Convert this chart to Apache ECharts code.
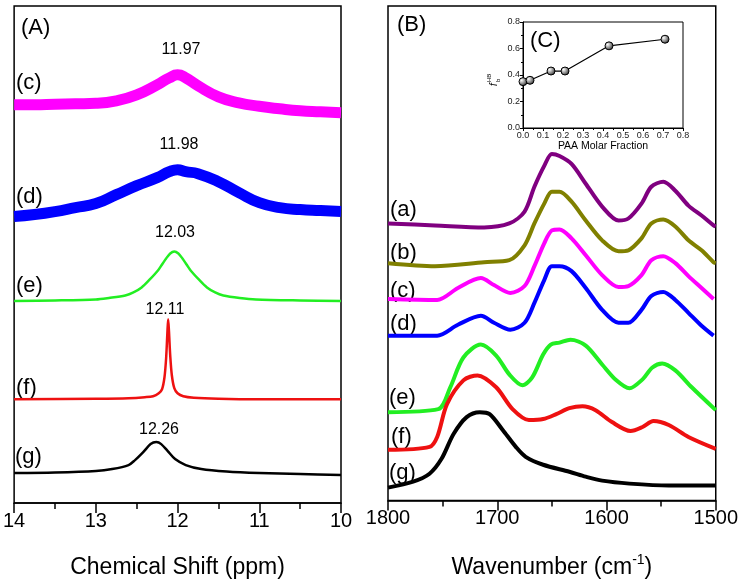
<!DOCTYPE html>
<html><head><meta charset="utf-8">
<script src="https://cdn.jsdelivr.net/npm/echarts@6/dist/echarts.min.js"></script>
<style>html,body{margin:0;padding:0;background:#fff}#c{width:741px;height:584px}</style>
</head><body><div id="c"></div>
<script>
// ---------- Panel (A): 1H NMR, chemical shift (ppm) vs stacked intensity ----------
const nmrLabels = ['(c)', '(d)', '(e)', '(f)', '(g)'];
const nmrPeakLabels = ['11.97', '11.98', '12.03', '12.11', '12.26'];
const nmrC = [[14,399],[13.75,399],[13.5,399.5],[13.25,400],[13,400.5],[12.75,403],[12.5,409],[12.25,419],[12.1,426],[12,429],[11.9,426],[11.75,418],[11.5,407],[11.25,401],[11,397.5],[10.75,395],[10.5,393],[10.25,392],[10,391]];
const nmrD = [[14,287],[13.75,289],[13.5,292],[13.25,296],[13,300],[12.75,309],[12.5,318],[12.25,326],[12.1,332],[12,334],[11.9,332],[11.75,330],[11.5,322],[11.25,311],[11,301],[10.75,296],[10.5,294],[10.25,293],[10,292]];
const nmrE = [[14,202.5],[13.5,203],[13,204],[12.84,205.5],[12.64,208],[12.54,211],[12.44,216],[12.34,224],[12.24,233],[12.19,239],[12.14,245],[12.09,250],[12.04,252],[11.99,250],[11.94,245],[11.89,239],[11.84,233],[11.74,224],[11.64,216],[11.54,211],[11.44,208],[11.24,205.5],[11.04,204],[10.5,203],[10,202.5]];
const nmrF = [[14,104],[13,104.5],[12.6,105],[12.4,106],[12.3,107],[12.23,110],[12.19,114],[12.16,126],[12.14,145],[12.125,170],[12.115,184],[12.105,172],[12.09,148],[12.07,128],[12.04,115],[12,110],[11.93,107],[11.8,105.5],[11.5,104.5],[11,104],[10,104]];
const nmrG = [[14,30],[13.5,30.5],[13,32],[12.8,34],[12.6,38],[12.52,43],[12.42,51],[12.33,59],[12.26,61],[12.2,59],[12.12,52],[12.03,44],[11.9,38],[11.71,34],[11.4,31.5],[11,30],[10.5,29],[10,28]];

// ---------- Panel (B): FTIR, wavenumber (cm-1) vs stacked absorbance ----------
const irLabels = ['(a)', '(b)', '(c)', '(d)', '(e)', '(f)', '(g)'];
const irWnTop = [1800,1757,1712,1689,1675,1666,1657,1650,1643,1632,1619,1604,1589,1580,1568,1559,1548,1537,1525,1513,1502,1500];
const irA = [279,277,275,279,291,316,337,349,347,339,319,296,282,284,299,316,321,312,297,287,277,276];
const irB = [239,236,240,242,257,279,299,311,311,301,282,262,251,252,264,279,283,276,262,252,240,239];
const irWnMid = [1800,1755,1736,1715,1703,1688,1675,1666,1657,1650,1643,1632,1619,1604,1589,1580,1568,1559,1548,1537,1525,1513,1502];
const irC = [203,202,214,224,217,209,216,236,259,272,273,264,247,227,215,216,227,242,246,239,226,214,203];
const irD = [166,166,177,186,179,172,179,199,222,236,236,231,214,192,179,179,192,206,210,202,189,176,166];
const irWnE = [1800,1754,1743,1731,1715,1701,1689,1677,1668,1658,1651,1643,1633,1619,1604,1591,1579,1567,1558,1549,1537,1522,1500];
const irE = [89,92,114,144,157,146,127,116,124,147,157,159,162,156,137,121,113,122,134,138,131,114,91];
const irWnF = [1800,1762,1755,1746,1731,1718,1701,1686,1671,1658,1646,1634,1622,1610,1595,1578,1567,1557,1543,1525,1500];
const irF = [51,54,64,97,121,126,114,92,81,82,87,93,95,91,79,70,74,80,76,64,52];
const irWnG = [1800,1777,1762,1751,1740,1728,1716,1707,1695,1683,1674,1658,1634,1619,1604,1579,1543,1500];
const irG = [13,19,27,42,67,84,89,87,71,54,44,36,29,24,20,17,15,15];

// ---------- Inset (C): f_b^HB vs PAA molar fraction ----------
const paaFraction = [0.0, 0.035, 0.14, 0.21, 0.43, 0.71];
const fbHB = [0.35, 0.36, 0.43, 0.43, 0.62, 0.67];

const FONT = '"Liberation Sans", Arial, sans-serif';
const zip = (xs, ys) => xs.map((x, i) => [x, ys[i]]);

function mainX(gi, min, max, interval, name, nameRich) {
  return {
    gridIndex: gi, type: 'value', min: min, max: max, interval: interval, inverse: true,
    axisLine: { show: true, onZero: false, lineStyle: { color: '#000', width: 1.5 } },
    axisTick: { show: true, inside: false, length: 10, lineStyle: { color: '#000', width: 1.5 } },
    minorTick: { show: true, splitNumber: 2, length: 6, lineStyle: { color: '#000', width: 1.5 } },
    splitLine: { show: false },
    axisLabel: { color: '#000', fontSize: 20, fontFamily: FONT, margin: 8, formatter: v => String(v) },
    name: name, nameLocation: 'middle', nameGap: 53,
    nameTextStyle: { color: '#000', fontSize: 23, fontFamily: FONT, rich: nameRich }
  };
}
function hiddenY(gi) {
  return { gridIndex: gi, type: 'value', min: 0, max: 498, show: false };
}
function lineSeries(xi, data, color, width, sm) {
  return { type: 'line', xAxisIndex: xi, yAxisIndex: xi, data: data, smooth: sm || 0.3,
    showSymbol: false, symbol: 'none', lineStyle: { color: color, width: width, join: 'round', cap: 'butt' }, silent: true, animation: false };
}
function txt(str, x, y, size, align) {
  return { type: 'text', x: x, y: y, silent: true,
    style: { text: str, fill: '#000', font: size + 'px ' + FONT, align: align || 'left', verticalAlign: 'middle' } };
}

const option = {
  backgroundColor: '#fff',
  animation: false,
  grid: [
    { left: 12, top: 6, width: 329, height: 498, show: true, borderColor: '#000', borderWidth: 1.5, backgroundColor: 'transparent' },
    { left: 388, top: 6, width: 329, height: 498, show: true, borderColor: '#000', borderWidth: 1.5, backgroundColor: 'transparent' },
    { left: 523, top: 22, width: 160, height: 106, show: true, borderColor: '#000', borderWidth: 1, backgroundColor: 'transparent' }
  ],
  xAxis: [
    mainX(0, 10, 14, 1, 'Chemical Shift (ppm)'),
    mainX(1, 1500, 1800, 100, 'Wavenumber (cm{sup|-1})', { sup: { fontSize: 14, fontFamily: FONT, color: '#000', padding: [0, 0, 14, 0] } }),
    { gridIndex: 2, type: 'value', min: 0, max: 0.8, interval: 0.1,
      axisLine: { show: true, onZero: false, lineStyle: { color: '#000', width: 1 } },
      axisTick: { show: true, length: 3, lineStyle: { color: '#000' } },
      minorTick: { show: true, splitNumber: 2, length: 2, lineStyle: { color: '#000' } },
      splitLine: { show: false },
      axisLabel: { color: '#222', fontSize: 9, fontFamily: FONT, margin: 3, formatter: v => v.toFixed(1) },
      name: 'PAA Molar Fraction', nameLocation: 'middle', nameGap: 13,
      nameTextStyle: { color: '#000', fontSize: 10.5, fontFamily: FONT } }
  ],
  yAxis: [
    hiddenY(0), hiddenY(1),
    { gridIndex: 2, type: 'value', min: 0, max: 0.8, interval: 0.2,
      axisLine: { show: true, onZero: false, lineStyle: { color: '#000', width: 1 } },
      axisTick: { show: true, length: 3, lineStyle: { color: '#000' } },
      minorTick: { show: true, splitNumber: 2, length: 2, lineStyle: { color: '#000' } },
      splitLine: { show: false },
      axisLabel: { color: '#222', fontSize: 9, fontFamily: FONT, margin: 3, formatter: v => v.toFixed(1) } }
  ],
  series: [
    lineSeries(0, nmrC, '#ff00ff', 11, 0.5),
    lineSeries(0, nmrD, '#0000ff', 11, 0.5),
    lineSeries(0, nmrE, '#22ee22', 2.5),
    lineSeries(0, nmrF, '#ee1111', 2.5),
    lineSeries(0, nmrG, '#000000', 2.5),
    lineSeries(1, zip(irWnTop, irA), '#800080', 4),
    lineSeries(1, zip(irWnTop, irB), '#808000', 4),
    lineSeries(1, zip(irWnMid, irC), '#ff00ff', 4),
    lineSeries(1, zip(irWnMid, irD), '#0000ff', 4),
    lineSeries(1, zip(irWnE, irE), '#22ee22', 4),
    lineSeries(1, zip(irWnF, irF), '#ee1111', 4),
    lineSeries(1, zip(irWnG, irG), '#000000', 4),
    { type: 'line', xAxisIndex: 2, yAxisIndex: 2, data: zip(paaFraction, fbHB), smooth: false,
      symbol: 'circle', symbolSize: 8, showSymbol: true, clip: false,
      lineStyle: { color: '#000', width: 1.2 },
      itemStyle: { color: { type: 'radial', x: 0.35, y: 0.35, r: 0.75,
        colorStops: [{ offset: 0, color: '#ffffff' }, { offset: 0.6, color: '#777777' }, { offset: 1, color: '#111111' }] },
        borderColor: '#000', borderWidth: 1 } }
  ],
  graphic: [
    txt('(A)', 21, 28, 22),
    txt(nmrLabels[0], 16, 83, 22),
    txt(nmrLabels[1], 16, 197, 22),
    txt(nmrLabels[2], 16, 286, 22),
    txt(nmrLabels[3], 16, 388, 22),
    txt(nmrLabels[4], 15, 457, 22),
    txt(nmrPeakLabels[0], 181, 50, 16, 'center'),
    txt(nmrPeakLabels[1], 179, 145, 16, 'center'),
    txt(nmrPeakLabels[2], 175, 233, 16, 'center'),
    txt(nmrPeakLabels[3], 165, 310, 16, 'center'),
    txt(nmrPeakLabels[4], 159, 430, 16, 'center'),
    txt('(B)', 397, 25, 22),
    txt(irLabels[0], 390, 210, 22),
    txt(irLabels[1], 390, 253, 22),
    txt(irLabels[2], 390, 291, 22),
    txt(irLabels[3], 390, 324, 22),
    txt(irLabels[4], 389, 398, 22),
    txt(irLabels[5], 391, 437, 22),
    txt(irLabels[6], 389, 473, 22),
    txt('(C)', 530, 41, 22),
    { type: 'group', x: 494, y: 86, rotation: Math.PI / 2, silent: true, children: [
      { type: 'text', x: 0, y: 0, style: { text: 'f', fill: '#000', font: 'italic 10px ' + FONT, align: 'left', verticalAlign: 'middle' } },
      { type: 'text', x: 4, y: 4, style: { text: 'b', fill: '#000', font: '6px ' + FONT, align: 'left', verticalAlign: 'middle' } },
      { type: 'text', x: 4, y: -5, style: { text: 'HB', fill: '#000', font: '6px ' + FONT, align: 'left', verticalAlign: 'middle' } }
    ] }
  ]
};

const chart = echarts.init(document.getElementById('c'), null, { renderer: 'canvas' });
chart.setOption(option);
</script>
</body></html>
